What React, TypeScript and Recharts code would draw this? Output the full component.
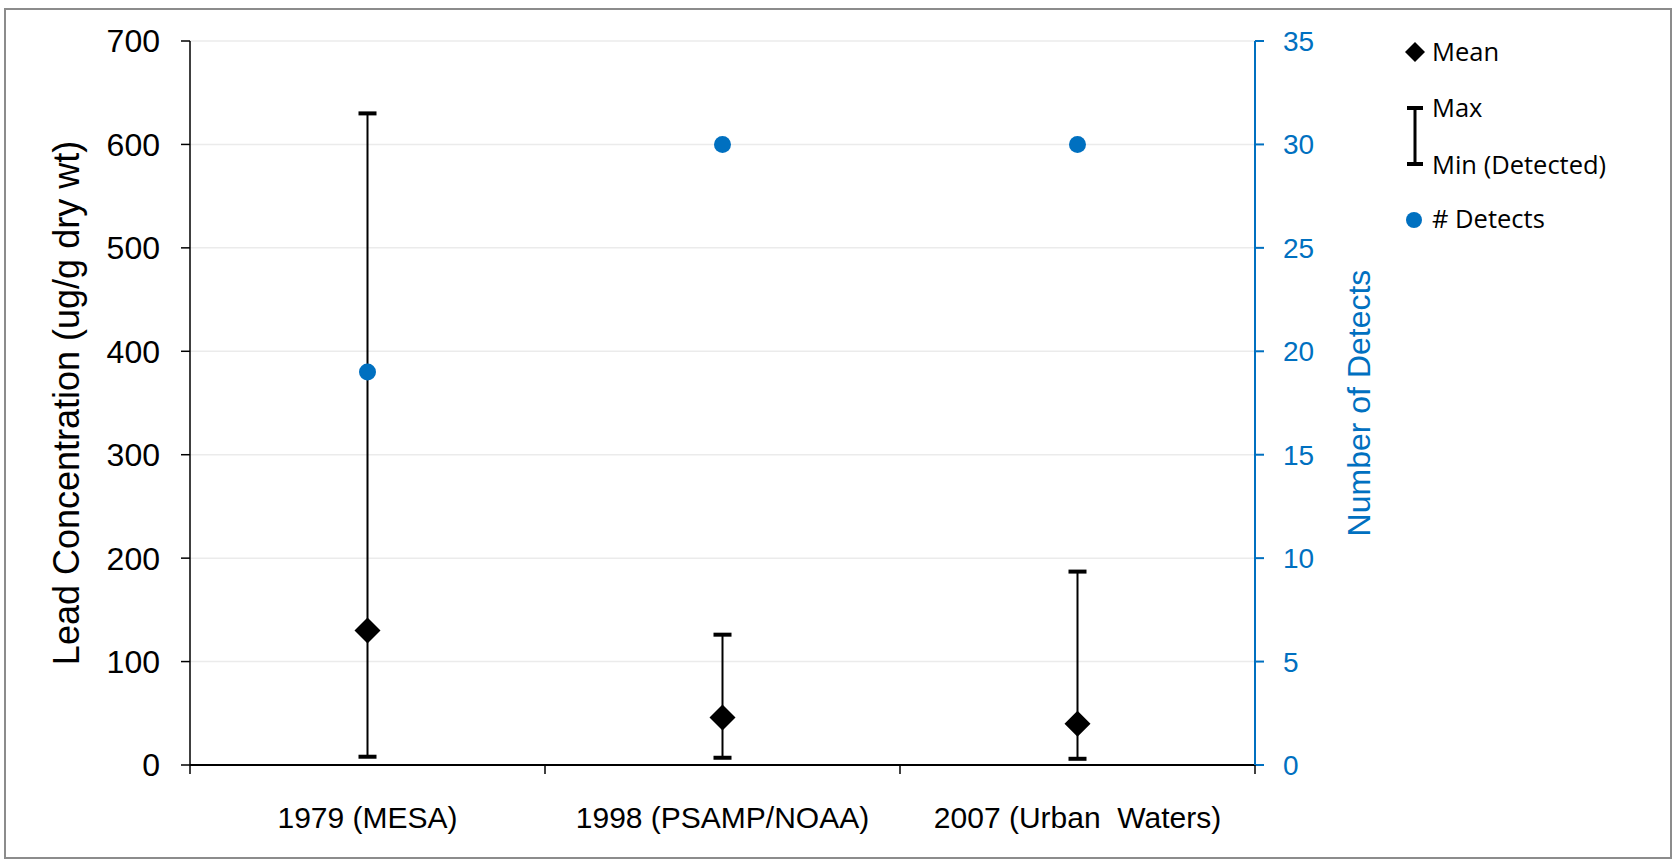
import React from 'react';
import {
  ComposedChart,
  Scatter,
  XAxis,
  YAxis,
  CartesianGrid,
  ErrorBar,
} from 'recharts';

const categories = ['1979 (MESA)', '1998 (PSAMP/NOAA)', '2007 (Urban  Waters)'];
const meanValues = [130, 46, 40];
const maxValues = [630, 126, 187];
const minValues = [8, 7, 6];
const detectCounts = [19, 30, 30];
const leftTicks = [0, 100, 200, 300, 400, 500, 600, 700];
const rightTicks = [0, 5, 10, 15, 20, 25, 30, 35];
const xTicks = [0, 0.5, 1, 1.5, 2, 2.5, 3];

const FONT = '"Liberation Sans", Arial, sans-serif';
const LEGEND_FONT = '"Open Sans", "Noto Sans", sans-serif';
const BLUE = '#0070C0';

const meanData = categories.map((c, i) => ({
  x: i + 0.5,
  y: meanValues[i],
  err: [meanValues[i] - minValues[i], maxValues[i] - meanValues[i]],
}));
const maxData = categories.map((c, i) => ({ x: i + 0.5, y: maxValues[i] }));
const minData = categories.map((c, i) => ({ x: i + 0.5, y: minValues[i] }));
const detectData = categories.map((c, i) => ({ x: i + 0.5, y: detectCounts[i] }));

const Diamond = (props: any) => {
  const { cx, cy } = props;
  if (cx == null || cy == null) return null;
  const h = 13;
  return (
    <polygon
      points={`${cx},${cy - h} ${cx + h},${cy} ${cx},${cy + h} ${cx - h},${cy}`}
      fill="#000"
    />
  );
};

const Cap = (props: any) => {
  const { cx, cy } = props;
  if (cx == null || cy == null) return null;
  return <rect x={cx - 9} y={cy - 2} width={18} height={4} fill="#000" />;
};

const Dot = (props: any) => {
  const { cx, cy } = props;
  if (cx == null || cy == null) return null;
  return <circle cx={cx} cy={cy} r={8.5} fill={BLUE} />;
};

const Nothing = () => null;

const XTick = (props: any) => {
  const { x, y, payload } = props;
  const v = payload.value;
  if (Number.isInteger(v)) {
    return <line x1={x} x2={x} y1={y} y2={y + 9} stroke="#000" strokeWidth={1.5} />;
  }
  const idx = Math.floor(v);
  return (
    <text
      x={x}
      y={y + 63}
      textAnchor="middle"
      fontFamily={FONT}
      fontSize={30}
      fill="#000"
      style={{ whiteSpace: 'pre' }}
    >
      {categories[idx]}
    </text>
  );
};

const LeftTitle = (props: any) => {
  const vb = props.viewBox || {};
  const cx = vb.x + 66;
  const cy = vb.y + vb.height / 2;
  return (
    <text
      x={cx}
      y={cy}
      transform={`rotate(-90 ${cx} ${cy})`}
      textAnchor="middle"
      dominantBaseline="central"
      fontFamily={FONT}
      fontSize={36}
      fill="#000"
    >
      Lead Concentration (ug/g dry wt)
    </text>
  );
};

const RightTitle = (props: any) => {
  const vb = props.viewBox || {};
  const cx = vb.x + 104;
  const cy = vb.y + vb.height / 2;
  return (
    <text
      x={cx}
      y={cy}
      transform={`rotate(-90 ${cx} ${cy})`}
      textAnchor="middle"
      dominantBaseline="central"
      fontFamily={FONT}
      fontSize={32}
      fill={BLUE}
    >
      Number of Detects
    </text>
  );
};

const Legend = () => (
  <svg
    width={1675}
    height={862}
    style={{ position: 'absolute', left: 0, top: 0, pointerEvents: 'none' }}
  >
    <polygon points="1415,42 1425,52 1415,62 1405,52" fill="#000" />
    <text x={1432} y={61} fontFamily={LEGEND_FONT} fontSize={25.5} fill="#000">
      Mean
    </text>
    <rect x={1407} y={106} width={16} height={4} fill="#000" />
    <rect x={1413.5} y={108} width={3} height={56} fill="#000" />
    <rect x={1407} y={162} width={16} height={4} fill="#000" />
    <text x={1432} y={117} fontFamily={LEGEND_FONT} fontSize={25.5} fill="#000">
      Max
    </text>
    <text x={1432} y={174} fontFamily={LEGEND_FONT} fontSize={25.5} fill="#000">
      Min (Detected)
    </text>
    <circle cx={1414} cy={220} r={8} fill={BLUE} />
    <text x={1432} y={228} fontFamily={LEGEND_FONT} fontSize={25.5} fill="#000">
      # Detects
    </text>
  </svg>
);

export default function App() {
  return (
    <div
      style={{
        position: 'absolute',
        left: 0,
        top: 0,
        width: 1675,
        height: 862,
        background: '#fff',
        overflow: 'hidden',
      }}
    >
      <div
        style={{
          position: 'absolute',
          left: 4,
          top: 8,
          width: 1668,
          height: 851,
          border: '2px solid #8c8c8c',
          boxSizing: 'border-box',
        }}
      />
      <div style={{ position: 'absolute', left: 0, top: 0 }}>
        <ComposedChart
          width={1675}
          height={862}
          margin={{ top: 41, right: 0, bottom: 0, left: 0 }}
        >
          <CartesianGrid
            yAxisId="left"
            xAxisId="x"
            vertical={false}
            stroke="#ebebeb"
            strokeWidth={1.5}
          />
          <XAxis
            xAxisId="x"
            type="number"
            dataKey="x"
            domain={[0, 3]}
            ticks={xTicks}
            interval={0}
            height={97}
            tickSize={0}
            tickMargin={0}
            tickLine={false}
            axisLine={{ stroke: '#000', strokeWidth: 2 }}
            tick={<XTick />}
            allowDataOverflow
          />
          <YAxis
            yAxisId="left"
            orientation="left"
            type="number"
            domain={[0, 700]}
            ticks={leftTicks}
            interval={0}
            width={190}
            tickSize={9}
            tickMargin={21}
            axisLine={{ stroke: '#000', strokeWidth: 1.5 }}
            tickLine={{ stroke: '#000', strokeWidth: 1.5 }}
            tick={{ fill: '#000', fontSize: 32, fontFamily: FONT }}
            label={{ content: <LeftTitle /> }}
          />
          <YAxis
            yAxisId="right"
            orientation="right"
            type="number"
            domain={[0, 35]}
            ticks={rightTicks}
            interval={0}
            width={420}
            tickSize={9}
            tickMargin={19}
            axisLine={{ stroke: BLUE, strokeWidth: 2 }}
            tickLine={{ stroke: BLUE, strokeWidth: 2 }}
            tick={{ fill: BLUE, fontSize: 28, fontFamily: FONT }}
            label={{ content: <RightTitle /> }}
          />
          <Scatter
            name="Range"
            data={meanData}
            xAxisId="x"
            yAxisId="left"
            dataKey="y"
            shape={<Nothing />}
            isAnimationActive={false}
          >
            <ErrorBar
              dataKey="err"
              direction="y"
              width={0}
              stroke="#000"
              strokeWidth={2}
              isAnimationActive={false}
            />
          </Scatter>
          <Scatter
            name="Max"
            data={maxData}
            xAxisId="x"
            yAxisId="left"
            dataKey="y"
            shape={<Cap />}
            isAnimationActive={false}
          />
          <Scatter
            name="Min (Detected)"
            data={minData}
            xAxisId="x"
            yAxisId="left"
            dataKey="y"
            shape={<Cap />}
            isAnimationActive={false}
          />
          <Scatter
            name="Mean"
            data={meanData}
            xAxisId="x"
            yAxisId="left"
            dataKey="y"
            shape={<Diamond />}
            isAnimationActive={false}
          />
          <Scatter
            name="# Detects"
            data={detectData}
            xAxisId="x"
            yAxisId="right"
            dataKey="y"
            shape={<Dot />}
            isAnimationActive={false}
          />
        </ComposedChart>
      </div>
      <Legend />
    </div>
  );
}
